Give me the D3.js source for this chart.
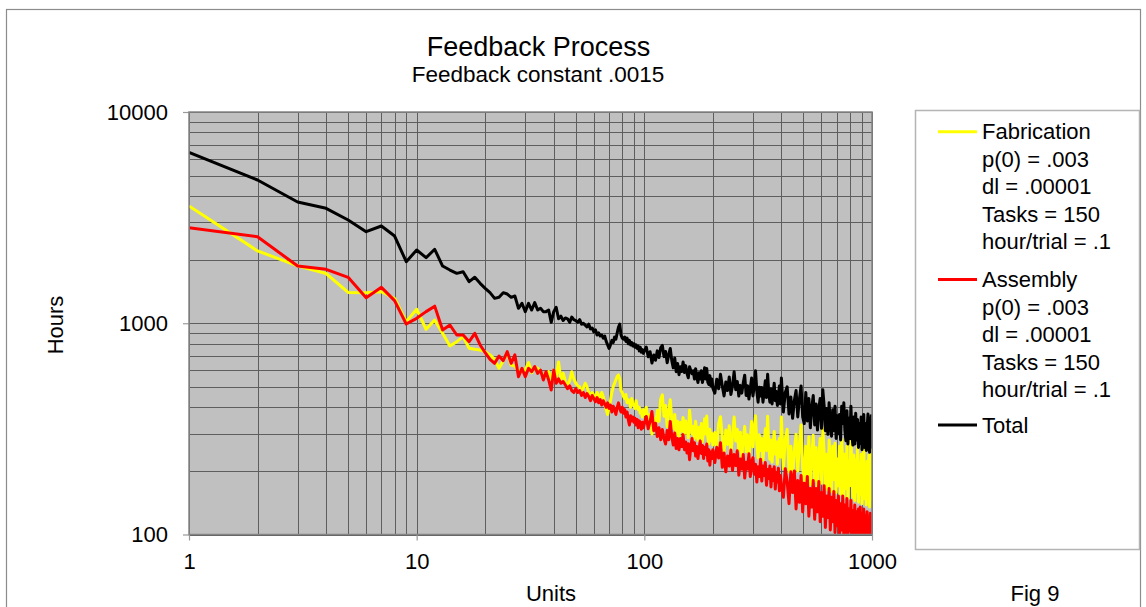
<!DOCTYPE html>
<html>
<head>
<meta charset="utf-8">
<script src="https://cdn.jsdelivr.net/npm/d3@7"></script>
<style>
  body { margin: 0; background: #fff; }
  svg { display: block; }
  text { font-family: "Liberation Sans", Arial, Helvetica, sans-serif; fill: #000; }
</style>
</head>
<body>
<svg id="chart" width="1146" height="607"></svg>
<script>
// Unit numbers at which the simulated hours are recorded
const units = d3.range(1, 101).concat(d3.range(102, 201, 2), d3.range(204, 401, 4), d3.range(408, 1001, 8));

// Hours per unit – fabrication
const fabrication = [
  3590, 2200, 1870, 1720, 1400, 1395, 1410, 1310, 1018, 1165,
  936, 1036, 896, 780, 818, 864, 761, 753, 747, 734,
  708, 675, 612, 665, 726, 634, 627, 596, 590, 600,
  651, 583, 618, 612, 590, 569, 558, 590, 539, 600,
  560, 655, 540, 580, 530, 510, 535, 590, 545, 520,
  505, 500, 480, 495, 520, 500, 470, 450, 470, 455,
  440, 470, 455, 445, 470, 450, 420, 390, 370, 400,
  430, 470, 500, 520, 540, 560, 570, 545, 480, 470,
  450, 440, 460, 420, 435, 430, 400, 440, 415, 410,
  395, 430, 405, 390, 400, 375, 385, 360, 390, 370,
  400, 341, 370, 299, 354, 328, 386, 344, 438, 458,
  363, 408, 324, 379, 434, 350, 318, 370, 298, 344,
  291, 339, 309, 358, 300, 345, 317, 287, 387, 332,
  299, 325, 285, 344, 305, 279, 322, 288, 335, 275,
  308, 353, 299, 364, 289, 269, 315, 278, 301, 265,
  304, 256, 334, 361, 289, 247, 312, 267, 327, 241,
  293, 360, 277, 315, 250, 305, 233, 285, 325, 247,
  297, 230, 283, 343, 260, 313, 365, 267, 230, 297,
  250, 285, 225, 270, 317, 250, 363, 260, 227, 280,
  220, 265, 307, 240, 275, 215, 255, 285, 233, 360,
  205, 282, 315, 198, 262, 185, 250, 298, 200, 268,
  330, 205, 180, 262, 192, 290, 172, 235, 295, 180,
  258, 170, 232, 285, 175, 320, 248, 168, 240, 162,
  280, 210, 160, 262, 182, 270, 158, 228, 170, 262,
  155, 282, 212, 150, 240, 165, 262, 148, 222, 170,
  300, 200, 150, 238, 145, 225, 160, 262, 142, 215,
  155, 240, 140, 200, 268, 148, 215, 138, 222, 150,
  238, 135, 205, 265, 145
];

// Hours per unit – assembly
const assembly = [
  2835, 2569, 1866, 1800, 1650, 1321, 1479, 1279, 992, 1055,
  1135, 1205, 929, 981, 880, 880, 818, 896, 789, 726,
  675, 646, 700, 665, 734, 646, 708, 558, 612, 558,
  612, 590, 624, 579, 600, 539, 590, 539, 483, 600,
  520, 545, 520, 530, 510, 490, 505, 480, 470, 490,
  470, 480, 455, 470, 445, 465, 450, 430, 455, 440,
  425, 445, 420, 435, 410, 430, 415, 400, 420, 395,
  410, 380, 405, 390, 370, 400, 420, 395, 380, 400,
  375, 390, 360, 380, 350, 330, 365, 345, 360, 340,
  355, 330, 350, 320, 345, 335, 315, 340, 320, 335,
  362, 317, 343, 382, 310, 336, 291, 320, 281, 314,
  285, 268, 311, 281, 343, 291, 265, 302, 255, 285,
  252, 285, 261, 297, 252, 274, 243, 269, 226, 261,
  285, 249, 272, 235, 261, 229, 255, 277, 242, 264,
  229, 259, 239, 268, 223, 252, 213, 246, 229, 252,
  219, 259, 230, 272, 208, 243, 198, 235, 211, 251,
  201, 239, 212, 249, 191, 228, 204, 239, 185, 220,
  204, 241, 188, 220, 231, 193, 215, 177, 209, 188,
  227, 179, 211, 190, 219, 171, 203, 184, 211, 168,
  203, 180, 209, 164, 196, 177, 206, 161, 190, 171,
  150, 205, 178, 140, 198, 158, 200, 132, 180, 142,
  190, 128, 175, 140, 188, 122, 165, 135, 180, 118,
  165, 128, 178, 115, 158, 122, 170, 108, 152, 120,
  165, 105, 150, 115, 160, 102, 145, 110, 152, 96,
  140, 105, 152, 98, 138, 102, 148, 97, 132, 104,
  145, 96, 130, 100, 138, 97, 128, 94, 132, 99,
  135, 96, 125, 100, 132, 95, 122, 99, 128, 94,
  120, 97, 126, 95, 115
];

// Hours per unit – total
const total = [
  6445, 4766, 3750, 3500, 3080, 2713, 2886, 2588, 1956, 2222,
  2043, 2239, 1866, 1786, 1723, 1754, 1574, 1650, 1545, 1463,
  1396, 1312, 1327, 1396, 1375, 1327, 1346, 1177, 1243, 1135,
  1243, 1155, 1252, 1155, 1177, 1135, 1135, 1155, 1010, 1135,
  1190, 1050, 1080, 1030, 1060, 1050, 1010, 1070, 1040, 1030,
  1010, 1040, 990, 1000, 980, 960, 990, 940, 950, 910,
  930, 880, 900, 870, 880, 850, 870, 820, 790, 760,
  790, 830, 810, 860, 840, 900, 960, 990, 880, 850,
  840, 860, 820, 850, 800, 830, 790, 810, 780, 800,
  770, 790, 760, 780, 740, 770, 730, 750, 720, 740,
  772, 694, 733, 648, 707, 668, 740, 688, 766, 785,
  695, 735, 650, 710, 760, 665, 615, 685, 590, 645,
  571, 623, 591, 656, 584, 630, 578, 552, 623, 597,
  577, 596, 544, 609, 557, 524, 583, 544, 596, 524,
  558, 616, 545, 610, 526, 513, 565, 506, 545, 493,
  467, 543, 490, 573, 505, 453, 527, 480, 557, 460,
  508, 590, 485, 530, 452, 508, 467, 522, 568, 455,
  506, 438, 491, 551, 453, 506, 596, 476, 423, 498,
  453, 497, 423, 475, 535, 445, 573, 467, 423, 490,
  415, 468, 520, 430, 475, 408, 452, 505, 415, 550,
  380, 470, 500, 372, 448, 355, 432, 480, 360, 440,
  505, 360, 335, 470, 345, 440, 320, 400, 455, 330,
  415, 312, 395, 440, 318, 485, 410, 310, 395, 298,
  420, 330, 292, 390, 310, 405, 285, 365, 300, 370,
  280, 405, 335, 420, 310, 278, 385, 268, 355, 285,
  405, 295, 265, 360, 268, 375, 280, 350, 258, 335,
  270, 360, 252, 320, 370, 258, 335, 250, 320, 372,
  262, 245, 325, 365, 255
];

const xTickValues = [1, 10, 100, 1000];
const yTickValues = [100, 1000, 10000];

const seriesNames = ["Fabrication", "Assembly", "Total"];
const seriesColors = ["#ffff00", "#ff0000", "#000000"];
const fabricationNotes = ["p(0) = .003", "dl = .00001", "Tasks = 150", "hour/trial = .1"];
const assemblyNotes = ["p(0) = .003", "dl = .00001", "Tasks = 150", "hour/trial = .1"];

const svg = d3.select("#chart");
const plot = { left: 189, right: 872, top: 112, bottom: 534.5 };

// Outer chart frame
svg.append("rect")
  .attr("x", 6.5).attr("y", 9.5)
  .attr("width", 1134).attr("height", 640)
  .attr("fill", "#fff").attr("stroke", "#8c8c8c").attr("stroke-width", 1.2);

const x = d3.scaleLog().domain([1, 1000]).range([plot.left, plot.right]);
const y = d3.scaleLog().domain([100, 10000]).range([plot.bottom, plot.top]);

// Plot area background
svg.append("rect")
  .attr("x", plot.left).attr("y", plot.top)
  .attr("width", plot.right - plot.left).attr("height", plot.bottom - plot.top)
  .attr("fill", "#c0c0c0");

// Log grid (every 1..9 within each decade)
const grid = svg.append("g").attr("stroke", "#5e5e5e").attr("stroke-width", 1);
grid.selectAll("line.gx").data(x.ticks()).join("line")
  .attr("class", "gx")
  .attr("x1", d => Math.round(x(d)) + 0.5).attr("x2", d => Math.round(x(d)) + 0.5)
  .attr("y1", plot.top).attr("y2", plot.bottom);
grid.selectAll("line.gy").data(y.ticks()).join("line")
  .attr("class", "gy")
  .attr("y1", d => Math.round(y(d)) + 0.5).attr("y2", d => Math.round(y(d)) + 0.5)
  .attr("x1", plot.left).attr("x2", plot.right);

// Axes
const fmt = d3.format("d");
const yAxis = svg.append("g")
  .attr("transform", `translate(${plot.left},0)`)
  .call(d3.axisLeft(y).tickValues(yTickValues).tickFormat(fmt).tickSize(6).tickPadding(15));
const xAxis = svg.append("g")
  .attr("transform", `translate(0,${plot.bottom})`)
  .call(d3.axisBottom(x).tickValues(xTickValues).tickFormat(fmt).tickSize(6).tickPadding(13));
[xAxis, yAxis].forEach(g => {
  g.select(".domain").remove();
  g.selectAll(".tick line").attr("stroke", "#9a9a9a").attr("stroke-width", 1.2);
  g.selectAll(".tick text").style("font-size", "22px").attr("fill", "#000");
});

// Series lines, clipped to the plot area
svg.append("defs").append("clipPath").attr("id", "plotClip")
  .append("rect")
  .attr("x", plot.left).attr("y", plot.top)
  .attr("width", plot.right - plot.left).attr("height", plot.bottom - plot.top);

const line = d3.line()
  .x(d => x(d[0]))
  .y(d => y(d[1]));

const seriesValues = [fabrication, assembly, total];
const lines = svg.append("g").attr("clip-path", "url(#plotClip)");
seriesValues.forEach((vals, i) => {
  lines.append("path")
    .datum(units.map((u, k) => [u, vals[k]]))
    .attr("d", line)
    .attr("fill", "none")
    .attr("stroke", seriesColors[i])
    .attr("stroke-width", 3)
    .attr("stroke-linejoin", "round");
});

// Plot area border
svg.append("rect")
  .attr("x", plot.left).attr("y", plot.top)
  .attr("width", plot.right - plot.left).attr("height", plot.bottom - plot.top)
  .attr("fill", "none").attr("stroke", "#858585").attr("stroke-width", 1.5);

// Titles and axis names
svg.append("text").attr("x", 538.5).attr("y", 56).attr("text-anchor", "middle")
  .style("font-size", "27px").text("Feedback Process");
svg.append("text").attr("x", 538).attr("y", 82).attr("text-anchor", "middle")
  .style("font-size", "22.5px").text("Feedback constant .0015");
svg.append("text").attr("x", 551).attr("y", 601).attr("text-anchor", "middle")
  .style("font-size", "22px").text("Units");
svg.append("text").attr("transform", "translate(63,325) rotate(-90)").attr("text-anchor", "middle")
  .style("font-size", "22px").text("Hours");
svg.append("text").attr("x", 1035).attr("y", 601).attr("text-anchor", "middle")
  .style("font-size", "22px").text("Fig 9");

// Legend
const legend = svg.append("g");
legend.append("rect")
  .attr("x", 915.5).attr("y", 110.5).attr("width", 224).attr("height", 439)
  .attr("fill", "#fff").attr("stroke", "#b4b4b4").attr("stroke-width", 1.5);

const legendGroups = [
  { name: seriesNames[0], color: seriesColors[0], notes: fabricationNotes, top: 139.3 },
  { name: seriesNames[1], color: seriesColors[1], notes: assemblyNotes, top: 287.2 },
  { name: seriesNames[2], color: seriesColors[2], notes: [], top: 432.5 }
];
const lineStep = 27.5;
legendGroups.forEach(g => {
  legend.append("line")
    .attr("x1", 938).attr("x2", 977)
    .attr("y1", g.top - 7.6).attr("y2", g.top - 7.6)
    .attr("stroke", g.color).attr("stroke-width", 3);
  [g.name].concat(g.notes).forEach((t, j) => {
    legend.append("text")
      .attr("x", 982).attr("y", g.top + j * lineStep)
      .style("font-size", "22px").text(t);
  });
});
</script>
</body>
</html>
